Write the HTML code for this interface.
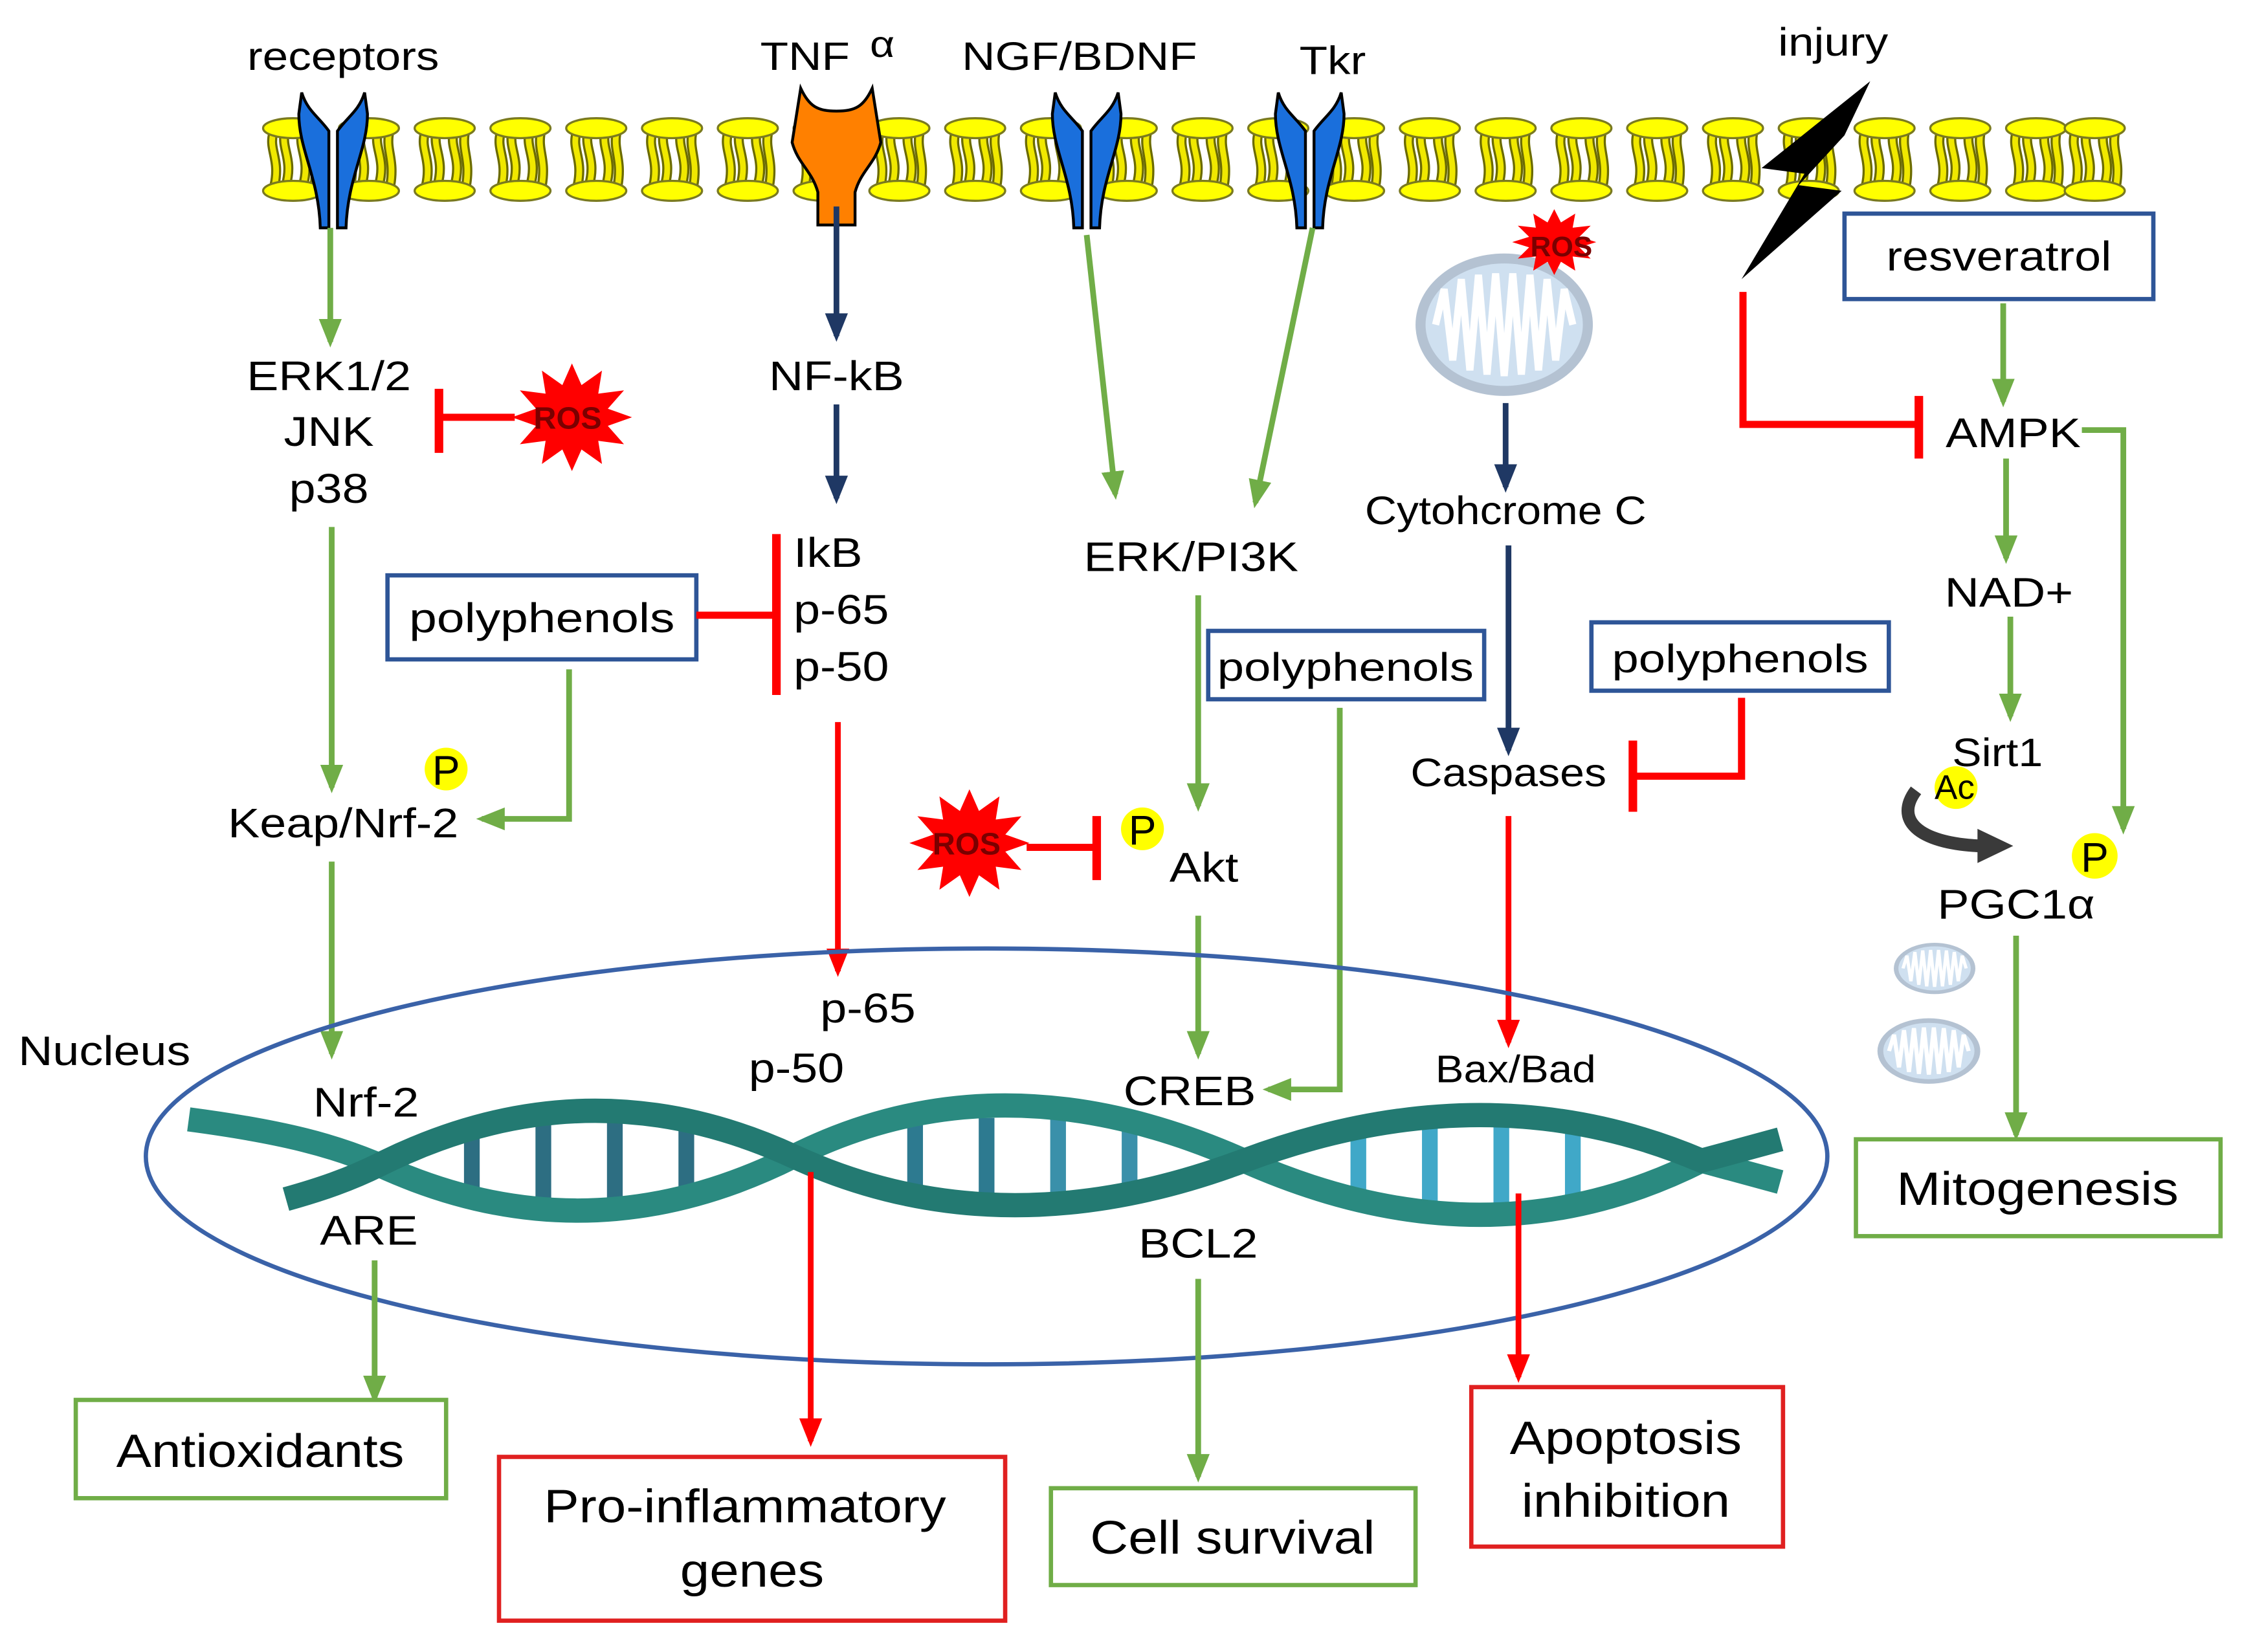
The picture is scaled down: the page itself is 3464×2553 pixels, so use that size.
<!DOCTYPE html>
<html><head><meta charset="utf-8"><style>
html,body{margin:0;padding:0;background:#fff}
svg{display:block}
text{font-family:"Liberation Sans",sans-serif;fill:#000}
</style></head><body>
<svg width="3464" height="2553" viewBox="0 0 1568 1160" preserveAspectRatio="none" xmlns="http://www.w3.org/2000/svg">
<defs>
<marker id="agB" markerWidth="20" markerHeight="20" refX="16" refY="10" orient="auto" markerUnits="userSpaceOnUse" viewBox="0 0 20 20"><path d="M0,2 L20,10 L0,18 Z" fill="#70ad47"/></marker>
<marker id="arB" markerWidth="20" markerHeight="20" refX="16" refY="10" orient="auto" markerUnits="userSpaceOnUse" viewBox="0 0 20 20"><path d="M0,2 L20,10 L0,18 Z" fill="#ff0000"/></marker>
<marker id="anB" markerWidth="20" markerHeight="20" refX="16" refY="10" orient="auto" markerUnits="userSpaceOnUse" viewBox="0 0 20 20"><path d="M0,2 L20,10 L0,18 Z" fill="#1f3864"/></marker>
<g id="lip">
<path d="M-14,94 C-17,105 -9,112 -13,130 M-6,94 C-8,105 0,112 -5,130 M6,94 C4,105 12,112 7,130 M14,94 C12,106 18,112 15,130" stroke="#6b6b00" stroke-width="7" fill="none"/>
<path d="M-14,94 C-17,105 -9,112 -13,130 M-6,94 C-8,105 0,112 -5,130 M6,94 C4,105 12,112 7,130 M14,94 C12,106 18,112 15,130" stroke="#f0e800" stroke-width="4" fill="none"/>
<ellipse cx="0" cy="90" rx="21" ry="7" fill="#ffff00" stroke="#7a7a20" stroke-width="1.5"/>
<ellipse cx="0" cy="134" rx="21" ry="7" fill="#ffff00" stroke="#7a7a20" stroke-width="1.5"/>
</g>
<g id="rec">
<path d="M-3,160 L-9,160 C-10,125 -24,105 -24,80 L-22,65 C-18,78 -10,82 -3,92 Z" fill="#1a6fdc" stroke="#000" stroke-width="2"/>
<path d="M3,160 L9,160 C10,125 24,105 24,80 L22,65 C18,78 10,82 3,92 Z" fill="#1a6fdc" stroke="#000" stroke-width="2"/>
</g>
<polygon id="star" points="42,0 25.1,6.7 36.4,21 18.4,18.4 21,36.4 6.7,25.1 0,42 -6.7,25.1 -21,36.4 -18.4,18.4 -36.4,21 -25.1,6.7 -42,0 -25.1,-6.7 -36.4,-21 -18.4,-18.4 -21,-36.4 -6.7,-25.1 0,-42 6.7,-25.1 21,-36.4 18.4,-18.4 36.4,-21 25.1,-6.7" fill="#ff0000"/>
<g id="mito">
<ellipse cx="0" cy="0" rx="62" ry="50" fill="#b4c2d2"/>
<ellipse cx="0" cy="0" rx="55" ry="43" fill="#cfe0f0"/>
<path d="M-48,0 L-42,-25 L-36,25 L-30,-32 L-24,32 L-18,-35 L-12,35 L-6,-36 L0,36 L6,-36 L12,35 L18,-35 L24,32 L30,-32 L36,25 L42,-25 L48,0" stroke="#ffffff" stroke-width="5" fill="none"/>
</g>
</defs>

<!-- membrane -->
<g>
<use href="#lip" x="205"/><use href="#lip" x="258"/><use href="#lip" x="311"/><use href="#lip" x="364"/><use href="#lip" x="417"/><use href="#lip" x="470"/><use href="#lip" x="523"/><use href="#lip" x="576"/><use href="#lip" x="629"/><use href="#lip" x="682"/><use href="#lip" x="735"/><use href="#lip" x="788"/><use href="#lip" x="841"/><use href="#lip" x="894"/><use href="#lip" x="947"/><use href="#lip" x="1000"/><use href="#lip" x="1053"/><use href="#lip" x="1106"/><use href="#lip" x="1159"/><use href="#lip" x="1212"/><use href="#lip" x="1265"/><use href="#lip" x="1318"/><use href="#lip" x="1371"/><use href="#lip" x="1424"/><use href="#lip" x="1465"/>
</g>
<use href="#rec" x="233"/><use href="#rec" x="760"/><use href="#rec" x="916"/>
<path d="M560,62 C566,75 572,78 585,78 C598,78 604,75 610,62 L616,100 C612,115 602,120 598,135 L598,158 L572,158 L572,135 C568,120 558,115 554,100 Z" fill="#ff8000" stroke="#000" stroke-width="2"/>

<!-- top labels -->
<text transform="translate(240,49) scale(1.15,1)" font-size="28" text-anchor="middle">receptors</text>
<text transform="translate(563,49) scale(1.15,1)" font-size="28" text-anchor="middle">TNF</text>
<text transform="translate(617,40) scale(1.15,1)" font-size="26" text-anchor="middle">α</text>
<text transform="translate(755,49) scale(1.15,1)" font-size="28" text-anchor="middle">NGF/BDNF</text>
<text transform="translate(932,52) scale(1.15,1)" font-size="28" text-anchor="middle">Tkr</text>
<text transform="translate(1282,39) scale(1.15,1)" font-size="28" text-anchor="middle">injury</text>

<!-- lightning -->
<polygon points="1308,57 1232,118 1262,122 1218,196 1288,134 1258,130 1290,95" fill="#000"/>

<!-- mitochondrion + ROS -->
<use href="#mito" x="1052" y="228"/>
<use href="#star" transform="translate(1087,170) scale(0.7,0.55)"/>
<text x="1092" y="180" font-size="20" font-weight="bold" text-anchor="middle" style="fill:#7a0000">ROS</text>

<!-- column 1 -->
<line x1="231" y1="160" x2="231" y2="240" stroke="#70ad47" stroke-width="4" marker-end="url(#agB)"/>
<text transform="translate(230,274) scale(1.15,1)" font-size="29" text-anchor="middle">ERK1/2</text>
<text transform="translate(230,313) scale(1.15,1)" font-size="29" text-anchor="middle">JNK</text>
<text transform="translate(230,353) scale(1.15,1)" font-size="29" text-anchor="middle">p38</text>
<line x1="360" y1="293" x2="307" y2="293" stroke="#ff0000" stroke-width="5"/>
<line x1="307" y1="273" x2="307" y2="318" stroke="#ff0000" stroke-width="6"/>
<use href="#star" transform="translate(400,293) scale(1,0.9)"/>
<text x="397" y="301" font-size="22" font-weight="bold" text-anchor="middle" style="fill:#7a0000">ROS</text>
<line x1="232" y1="370" x2="232" y2="553" stroke="#70ad47" stroke-width="4" marker-end="url(#agB)"/>
<rect x="271" y="404" width="216" height="59" fill="#fff" stroke="#2e5597" stroke-width="3"/>
<text transform="translate(379,444) scale(1.2,1)" font-size="29" text-anchor="middle">polyphenols</text>
<line x1="487" y1="432" x2="543" y2="432" stroke="#ff0000" stroke-width="5"/>
<line x1="543" y1="375" x2="543" y2="488" stroke="#ff0000" stroke-width="6"/>
<polyline points="398,470 398,575 337,575" fill="none" stroke="#70ad47" stroke-width="4" marker-end="url(#agB)"/>
<circle cx="312" cy="540" r="15" fill="#ffff00"/>
<text x="312" y="551" font-size="29" text-anchor="middle">P</text>
<text transform="translate(240,588) scale(1.15,1)" font-size="29" text-anchor="middle">Keap/Nrf-2</text>
<line x1="232" y1="605" x2="232" y2="740" stroke="#70ad47" stroke-width="4" marker-end="url(#agB)"/>

<!-- column 2 -->
<line x1="585" y1="145" x2="585" y2="236" stroke="#1f3864" stroke-width="4" marker-end="url(#anB)"/>
<text transform="translate(585,274) scale(1.15,1)" font-size="29" text-anchor="middle">NF-kB</text>
<line x1="585" y1="284" x2="585" y2="350" stroke="#1f3864" stroke-width="4" marker-end="url(#anB)"/>
<text transform="translate(555,398) scale(1.15,1)" font-size="29">IkB</text>
<text transform="translate(555,438) scale(1.15,1)" font-size="29">p-65</text>
<text transform="translate(555,478) scale(1.15,1)" font-size="29">p-50</text>
<line x1="586" y1="507" x2="586" y2="682" stroke="#ff0000" stroke-width="4" marker-end="url(#arB)"/>

<!-- column 3 -->
<line x1="760" y1="165" x2="780" y2="347" stroke="#70ad47" stroke-width="4" marker-end="url(#agB)"/>
<line x1="918" y1="160" x2="878" y2="353" stroke="#70ad47" stroke-width="4" marker-end="url(#agB)"/>
<text transform="translate(833,401) scale(1.15,1)" font-size="29" text-anchor="middle">ERK/PI3K</text>
<line x1="838" y1="418" x2="838" y2="566" stroke="#70ad47" stroke-width="4" marker-end="url(#agB)"/>
<rect x="845" y="443" width="193" height="48" fill="#fff" stroke="#2e5597" stroke-width="3"/>
<text transform="translate(941,478) scale(1.2,1)" font-size="28" text-anchor="middle">polyphenols</text>
<polyline points="937,497 937,765 887,765" fill="none" stroke="#70ad47" stroke-width="4" marker-end="url(#agB)"/>
<use href="#star" transform="translate(678,592) scale(1,0.9)"/>
<text x="676" y="600" font-size="22" font-weight="bold" text-anchor="middle" style="fill:#7a0000">ROS</text>
<line x1="718" y1="595" x2="767" y2="595" stroke="#ff0000" stroke-width="5"/>
<line x1="767" y1="573" x2="767" y2="618" stroke="#ff0000" stroke-width="6"/>
<circle cx="799" cy="582" r="15" fill="#ffff00"/>
<text x="799" y="593" font-size="29" text-anchor="middle">P</text>
<text transform="translate(842,619) scale(1.15,1)" font-size="29" text-anchor="middle">Akt</text>
<line x1="838" y1="643" x2="838" y2="740" stroke="#70ad47" stroke-width="4" marker-end="url(#agB)"/>

<!-- column 4 -->
<line x1="1053" y1="283" x2="1053" y2="342" stroke="#1f3864" stroke-width="4" marker-end="url(#anB)"/>
<text transform="translate(1053,368) scale(1.1,1)" font-size="28" text-anchor="middle">Cytohcrome C</text>
<line x1="1055" y1="383" x2="1055" y2="527" stroke="#1f3864" stroke-width="4" marker-end="url(#anB)"/>
<text transform="translate(1055,552) scale(1.1,1)" font-size="28" text-anchor="middle">Caspases</text>
<rect x="1113" y="437" width="208" height="48" fill="#fff" stroke="#2e5597" stroke-width="3"/>
<text transform="translate(1217,472) scale(1.2,1)" font-size="28" text-anchor="middle">polyphenols</text>
<polyline points="1218,490 1218,545 1142,545" fill="none" stroke="#ff0000" stroke-width="5"/>
<line x1="1142" y1="520" x2="1142" y2="570" stroke="#ff0000" stroke-width="6"/>
<line x1="1055" y1="573" x2="1055" y2="732" stroke="#ff0000" stroke-width="4" marker-end="url(#arB)"/>

<!-- column 5 -->
<rect x="1290" y="150" width="216" height="60" fill="#fff" stroke="#2e5597" stroke-width="3"/>
<text transform="translate(1398,190) scale(1.15,1)" font-size="29" text-anchor="middle">resveratrol</text>
<line x1="1401" y1="213" x2="1401" y2="282" stroke="#70ad47" stroke-width="4" marker-end="url(#agB)"/>
<polyline points="1219,205 1219,298 1342,298" fill="none" stroke="#ff0000" stroke-width="5"/>
<line x1="1342" y1="278" x2="1342" y2="322" stroke="#ff0000" stroke-width="6"/>
<text transform="translate(1408,314) scale(1.15,1)" font-size="29" text-anchor="middle">AMPK</text>
<polyline points="1456,302 1485,302 1485,582" fill="none" stroke="#70ad47" stroke-width="4" marker-end="url(#agB)"/>
<line x1="1403" y1="322" x2="1403" y2="392" stroke="#70ad47" stroke-width="4" marker-end="url(#agB)"/>
<text transform="translate(1405,426) scale(1.15,1)" font-size="29" text-anchor="middle">NAD+</text>
<line x1="1406" y1="433" x2="1406" y2="503" stroke="#70ad47" stroke-width="4" marker-end="url(#agB)"/>
<circle cx="1368" cy="553" r="15" fill="#ffff00"/>
<text transform="translate(1397,538) scale(1.1,1)" font-size="28" text-anchor="middle">Sirt1</text>
<text x="1367" y="561" font-size="24" text-anchor="middle">Ac</text>
<path d="M1340,555 C1325,575 1340,592 1385,594" fill="none" stroke="#3a3a3a" stroke-width="9"/>
<polygon points="1383,582 1408,594 1383,606" fill="#3a3a3a"/>
<circle cx="1465" cy="601" r="16" fill="#ffff00"/>
<text x="1465" y="612" font-size="29" text-anchor="middle">P</text>
<text transform="translate(1410,645) scale(1.15,1)" font-size="29" text-anchor="middle">PGC1α</text>
<use href="#mito" transform="translate(1353,680) scale(0.46,0.36)"/>
<use href="#mito" transform="translate(1349,738) scale(0.58,0.46)"/>
<line x1="1410" y1="657" x2="1410" y2="797" stroke="#70ad47" stroke-width="4" marker-end="url(#agB)"/>
<rect x="1298" y="800" width="255" height="68" fill="#fff" stroke="#70ad47" stroke-width="3"/>
<text transform="translate(1425,846) scale(1.12,1)" font-size="33" text-anchor="middle">Mitogenesis</text>

<!-- nucleus -->
<ellipse cx="690" cy="812" rx="588" ry="146" fill="none" stroke="#3a62a8" stroke-width="3"/>
<text transform="translate(73,748) scale(1.15,1)" font-size="29" text-anchor="middle">Nucleus</text>

<!-- DNA -->
<g stroke-width="11">
<line x1="330" y1="790" x2="330" y2="842" stroke="#2d6e82"/><line x1="380" y1="785" x2="380" y2="846" stroke="#2d6e82"/><line x1="430" y1="785" x2="430" y2="846" stroke="#2d6e82"/><line x1="480" y1="790" x2="480" y2="842" stroke="#2d6e82"/>
<line x1="640" y1="790" x2="640" y2="842" stroke="#2d7a90"/><line x1="690" y1="785" x2="690" y2="846" stroke="#2d7a90"/><line x1="740" y1="785" x2="740" y2="846" stroke="#3a90aa"/><line x1="790" y1="790" x2="790" y2="842" stroke="#3a90aa"/>
<line x1="950" y1="790" x2="950" y2="842" stroke="#40a8c8"/><line x1="1000" y1="785" x2="1000" y2="846" stroke="#40a8c8"/><line x1="1050" y1="785" x2="1050" y2="846" stroke="#40a8c8"/><line x1="1100" y1="790" x2="1100" y2="842" stroke="#40a8c8"/>
</g>
<path d="M132,786 C200,795 235,805 265,818 Q410,885 555,812 T870,815 T1190,815 L1245,830" fill="none" stroke="#2a8a80" stroke-width="17"/>
<path d="M200,842 C225,835 245,828 265,818 Q410,745 555,812 T870,815 T1190,815 L1245,800" fill="none" stroke="#237a72" stroke-width="17"/>

<!-- nucleus labels -->
<text transform="translate(256,784) scale(1.15,1)" font-size="29" text-anchor="middle">Nrf-2</text>
<text transform="translate(607,718) scale(1.15,1)" font-size="29" text-anchor="middle">p-65</text>
<text transform="translate(557,760) scale(1.15,1)" font-size="29" text-anchor="middle">p-50</text>
<text transform="translate(832,776) scale(1.15,1)" font-size="29" text-anchor="middle">CREB</text>
<text transform="translate(1060,760) scale(1.1,1)" font-size="27" text-anchor="middle">Bax/Bad</text>
<text transform="translate(258,874) scale(1.15,1)" font-size="29" text-anchor="middle">ARE</text>
<text transform="translate(838,883) scale(1.15,1)" font-size="29" text-anchor="middle">BCL2</text>

<!-- lower arrows -->
<line x1="262" y1="885" x2="262" y2="982" stroke="#70ad47" stroke-width="4" marker-end="url(#agB)"/>
<line x1="567" y1="823" x2="567" y2="1012" stroke="#ff0000" stroke-width="4" marker-end="url(#arB)"/>
<line x1="838" y1="898" x2="838" y2="1037" stroke="#70ad47" stroke-width="4" marker-end="url(#agB)"/>
<line x1="1062" y1="838" x2="1062" y2="967" stroke="#ff0000" stroke-width="4" marker-end="url(#arB)"/>

<!-- outcome boxes -->
<rect x="53" y="983" width="259" height="69" fill="#fff" stroke="#70ad47" stroke-width="3"/>
<text transform="translate(182,1030) scale(1.12,1)" font-size="33" text-anchor="middle">Antioxidants</text>
<rect x="349" y="1023" width="354" height="115" fill="#fff" stroke="#e02020" stroke-width="3"/>
<text transform="translate(521,1069) scale(1.12,1)" font-size="33" text-anchor="middle">Pro-inflammatory</text>
<text transform="translate(526,1114) scale(1.12,1)" font-size="33" text-anchor="middle">genes</text>
<rect x="735" y="1045" width="255" height="68" fill="#fff" stroke="#70ad47" stroke-width="3"/>
<text transform="translate(862,1091) scale(1.12,1)" font-size="33" text-anchor="middle">Cell survival</text>
<rect x="1029" y="974" width="218" height="112" fill="#fff" stroke="#e02020" stroke-width="3"/>
<text transform="translate(1137,1021) scale(1.12,1)" font-size="33" text-anchor="middle">Apoptosis</text>
<text transform="translate(1137,1065) scale(1.12,1)" font-size="33" text-anchor="middle">inhibition</text>
</svg>
</body></html>
